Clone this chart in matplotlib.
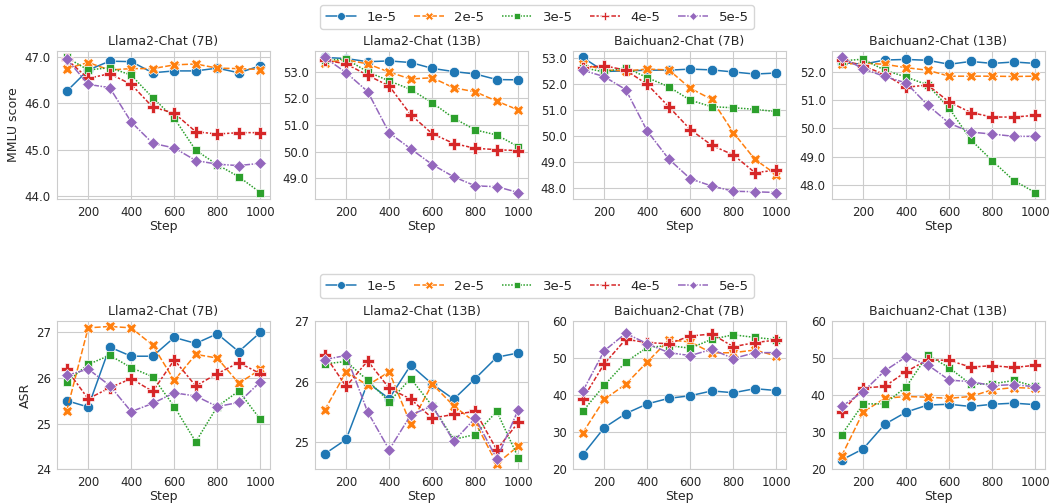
import matplotlib
matplotlib.use('Agg')
import matplotlib.pyplot as plt
from matplotlib.ticker import FormatStrFormatter
import seaborn as sns

steps = [100, 200, 300, 400, 500, 600, 700, 800, 900, 1000]
lrs = ['1e-5', '2e-5', '3e-5', '4e-5', '5e-5']
models = ['Llama2-Chat (7B)', 'Llama2-Chat (13B)', 'Baichuan2-Chat (7B)', 'Baichuan2-Chat (13B)']

# MMLU score, one row per learning rate
mmlu_llama_7b = [
    [46.26, 46.72, 46.91, 46.90, 46.66, 46.70, 46.70, 46.76, 46.66, 46.81],
    [46.75, 46.88, 46.72, 46.75, 46.75, 46.83, 46.85, 46.76, 46.75, 46.73],
    [46.99, 46.72, 46.77, 46.61, 46.12, 45.68, 44.99, 44.68, 44.42, 44.08],
    [46.95, 46.54, 46.64, 46.41, 45.92, 45.79, 45.39, 45.34, 45.37, 45.37],
    [46.96, 46.41, 46.34, 45.60, 45.14, 45.04, 44.77, 44.69, 44.66, 44.71],
]
mmlu_llama_13b = [
    [53.54, 53.50, 53.38, 53.41, 53.35, 53.13, 53.01, 52.92, 52.71, 52.70],
    [53.35, 53.45, 53.30, 52.99, 52.73, 52.78, 52.40, 52.25, 51.90, 51.57],
    [53.44, 53.48, 53.00, 52.66, 52.34, 51.84, 51.26, 50.82, 50.63, 50.19],
    [53.44, 53.30, 52.87, 52.47, 51.39, 50.68, 50.31, 50.13, 50.08, 50.04],
    [53.54, 52.97, 52.26, 50.71, 50.11, 49.52, 49.06, 48.72, 48.69, 48.47],
]
mmlu_baichuan_7b = [
    [53.04, 52.50, 52.52, 52.55, 52.55, 52.59, 52.56, 52.48, 52.40, 52.44],
    [52.78, 52.56, 52.52, 52.59, 52.56, 51.85, 51.42, 50.14, 49.11, 48.52],
    [52.65, 52.48, 52.65, 52.26, 51.91, 51.39, 51.14, 51.10, 51.04, 50.95],
    [52.65, 52.72, 52.55, 52.00, 51.14, 50.26, 49.65, 49.28, 48.60, 48.69],
    [52.55, 52.30, 51.80, 50.20, 49.12, 48.36, 48.08, 47.88, 47.86, 47.83],
]
mmlu_baichuan_13b = [
    [52.32, 52.26, 52.41, 52.43, 52.40, 52.26, 52.36, 52.29, 52.34, 52.29],
    [52.26, 52.30, 52.26, 52.14, 52.05, 51.84, 51.84, 51.84, 51.83, 51.84],
    [52.38, 52.44, 52.05, 51.81, 51.53, 50.71, 49.60, 48.86, 48.16, 47.74],
    [52.41, 52.20, 51.90, 51.45, 51.53, 50.93, 50.56, 50.40, 50.40, 50.46],
    [52.50, 52.10, 51.83, 51.60, 50.82, 50.18, 49.87, 49.80, 49.72, 49.72],
]

# attack success rate
asr_llama_7b = [
    [25.50, 25.36, 26.67, 26.47, 26.47, 26.88, 26.75, 26.96, 26.57, 26.99],
    [25.27, 27.09, 27.12, 27.09, 26.71, 25.94, 26.51, 26.43, 25.88, 26.18],
    [25.91, 26.29, 26.49, 26.22, 26.02, 25.37, 24.60, 25.37, 25.71, 25.09],
    [26.18, 25.54, 25.78, 25.98, 25.70, 26.39, 25.82, 26.09, 26.33, 26.09],
    [26.05, 26.19, 25.83, 25.26, 25.44, 25.67, 25.60, 25.37, 25.46, 25.91],
]
asr_llama_13b = [
    [24.81, 25.05, 25.98, 25.72, 26.27, 25.96, 25.71, 26.05, 26.40, 26.47],
    [25.53, 26.16, 25.94, 26.16, 25.30, 25.96, 25.60, 25.33, 24.65, 24.94],
    [26.29, 26.33, 26.02, 25.67, 26.05, 25.60, 25.05, 25.13, 25.51, 24.75],
    [26.44, 25.92, 26.34, 25.89, 25.71, 25.40, 25.46, 25.51, 24.88, 25.33],
    [26.36, 26.43, 25.50, 24.88, 25.45, 25.60, 25.02, 25.40, 24.73, 25.54],
]
asr_baichuan_7b = [
    [23.9, 31.2, 35.0, 37.6, 39.1, 39.8, 41.1, 40.6, 41.7, 41.2],
    [29.8, 38.8, 42.9, 48.9, 54.8, 54.3, 51.3, 51.4, 52.1, 50.5],
    [35.6, 42.6, 48.9, 52.8, 53.3, 52.6, 55.0, 56.2, 55.5, 54.9],
    [38.9, 48.4, 55.0, 54.1, 53.8, 55.9, 56.4, 53.0, 54.1, 54.8],
    [41.0, 51.9, 56.6, 53.8, 51.4, 50.6, 52.3, 49.8, 51.4, 51.4],
]
asr_baichuan_13b = [
    [22.5, 25.5, 32.1, 35.4, 37.3, 37.5, 36.9, 37.5, 37.8, 37.4],
    [23.6, 35.4, 39.1, 39.6, 39.4, 39.1, 39.6, 41.4, 42.0, 41.8],
    [29.3, 37.6, 37.6, 42.2, 50.8, 47.3, 42.9, 43.0, 43.9, 42.3],
    [35.4, 41.9, 42.3, 46.3, 49.5, 49.3, 47.5, 47.9, 47.4, 48.0],
    [36.9, 40.9, 46.5, 50.3, 48.1, 44.0, 43.6, 42.5, 42.8, 42.2],
]

mmlu_ticks = [[44, 45, 46, 47], [49, 50, 51, 52, 53], [48, 49, 50, 51, 52, 53], [48, 49, 50, 51, 52]]
asr_ticks = [[24, 25, 26, 27], [25, 26, 27], [20, 30, 40, 50, 60], [20, 30, 40, 50, 60]]

sns.set_style('whitegrid')
plt.rcParams['font.family'] = ['DejaVu Sans']

colors = ['#1f77b4', '#ff7f0e', '#2ca02c', '#d62728', '#9467bd']
markers = ['o', 'X', 's', 'P', 'D']
msizes = [7.5, 7.5, 6, 8, 6]
# seaborn's default dash patterns
dashes = ['-', (0, (4, 1.5)), (0, (1, 1)), (0, (3, 1.25, 1.5, 1.25)), (0, (5, 1, 1, 1))]

fig = plt.figure(figsize=(10.53, 5.04), dpi=100)

lefts = [0.0541, 0.2991, 0.5442, 0.7901]
width = 0.2023
height = 0.2948
rows = [
    (0.6046, [mmlu_llama_7b, mmlu_llama_13b, mmlu_baichuan_7b, mmlu_baichuan_13b], mmlu_ticks, 'MMLU score', '%.1f', 0.966),
    (0.0689, [asr_llama_7b, asr_llama_13b, asr_baichuan_7b, asr_baichuan_13b], asr_ticks, 'ASR', '%d', 0.432),
]

for bottom, panels, ticks, ylabel, fmt, leg_y in rows:
    handles = []
    for i, data in enumerate(panels):
        ax = fig.add_axes([lefts[i], bottom, width, height])
        for j, vals in enumerate(data):
            line, = ax.plot(steps, vals, color=colors[j], linestyle=dashes[j], linewidth=1.1,
                            marker=markers[j], markersize=msizes[j], markeredgecolor='white',
                            markeredgewidth=0.5, label=lrs[j])
            if i == 0:
                handles.append(line)
        ax.set_title(models[i], fontsize=9, pad=4)
        ax.set_xticks([200, 400, 600, 800, 1000])
        ax.set_yticks(ticks[i])
        ax.yaxis.set_major_formatter(FormatStrFormatter(fmt))
        ax.tick_params(labelsize=8.5, pad=1)
        ax.set_xlabel('Step', fontsize=9, labelpad=1)
        if i == 0:
            ax.set_ylabel(ylabel, fontsize=9, labelpad=3)
    fig.legend(handles, lrs, loc='center', bbox_to_anchor=(0.51, leg_y), ncol=5,
               fontsize=9.5, frameon=True, handlelength=2.3, columnspacing=1.3,
               markerscale=0.75)

fig.savefig('out.png', dpi=100)
